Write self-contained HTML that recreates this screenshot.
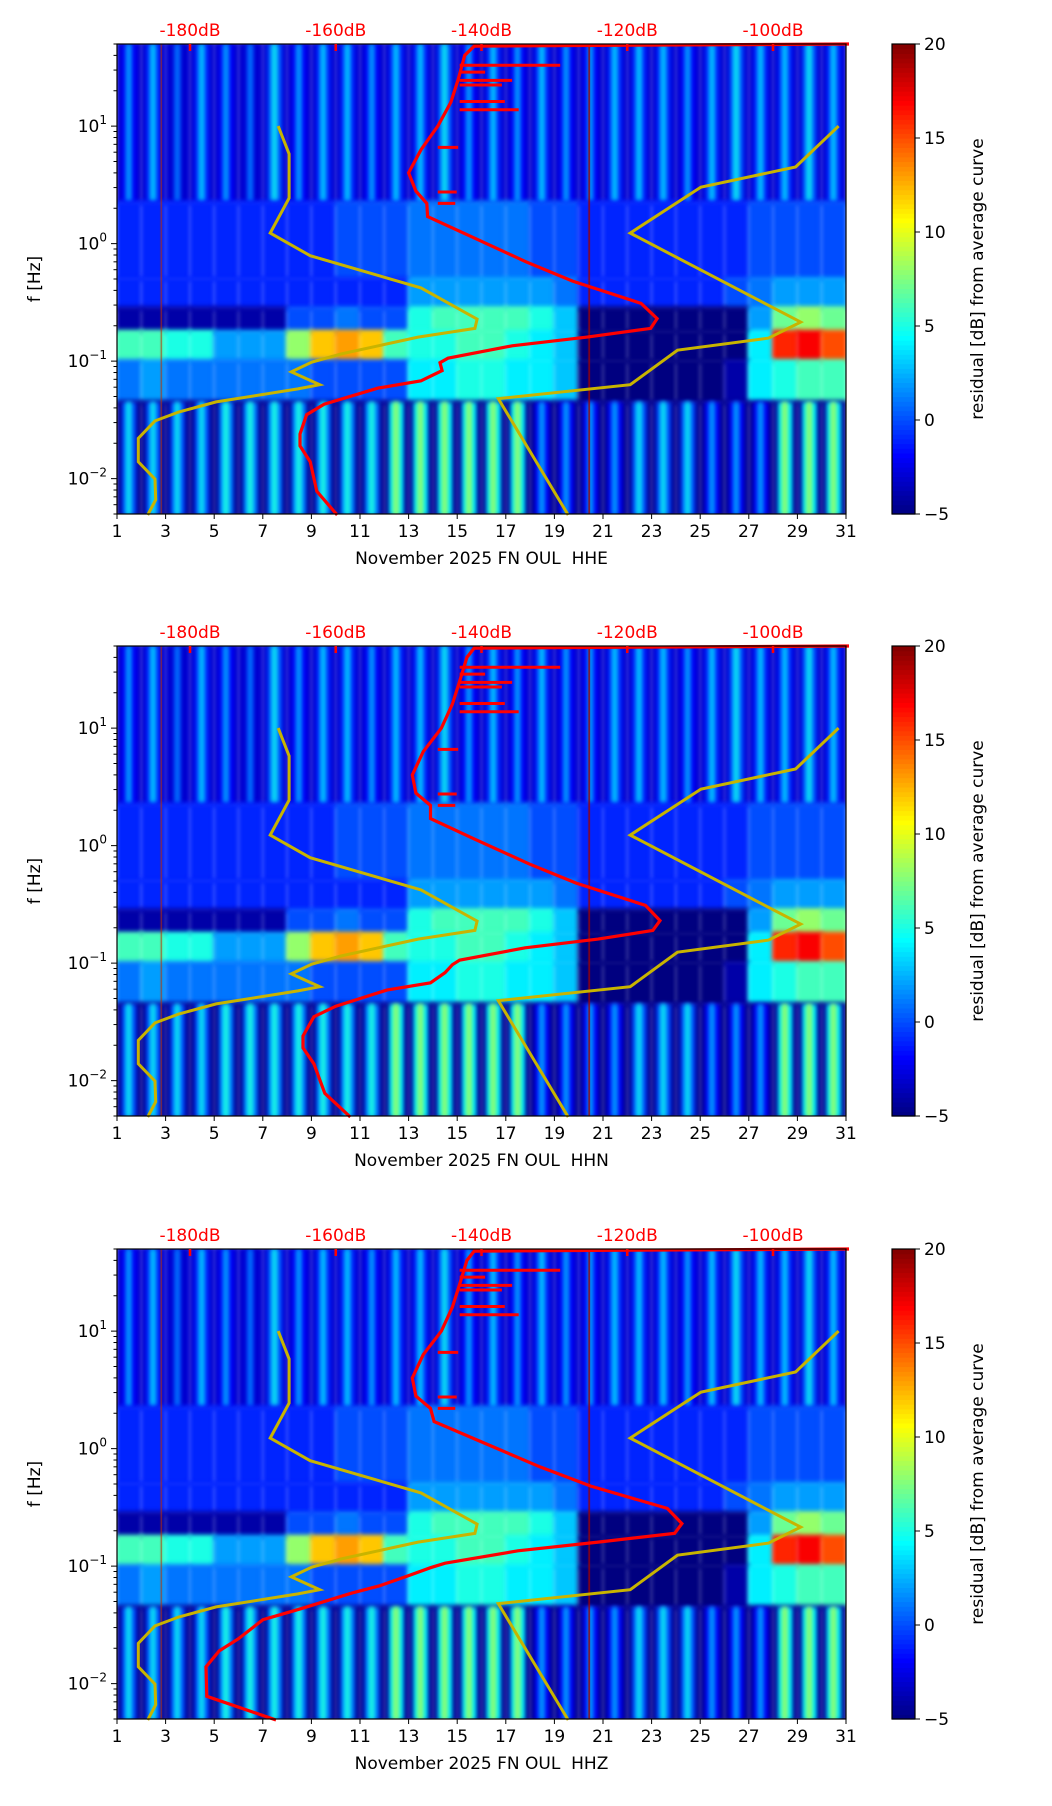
<!DOCTYPE html>
<html><head><meta charset="utf-8">
<style>
body{margin:0;background:#fff;}
#root{position:relative;width:1052px;height:1806px;overflow:hidden;background:#fff;font-family:"DejaVu Sans","Liberation Sans",sans-serif;}
canvas{position:absolute;}
svg{position:absolute;left:0;top:0;}
</style></head>
<body>
<div id="root"></div>
<script>
// ---- data ----
const days = [1,2,3,4,5,6,7,8,9,10,11,12,13,14,15,16,17,18,19,20,21,22,23,24,25,26,27,28,29,30];
const rowLogTop = [1.7, 0.35, -0.3, -0.55, -0.75, -1.0, -1.35];
const rowLogBot = [0.35, -0.3, -0.55, -0.75, -1.0, -1.35, -2.31];
const rowStreaky = [true,false,false,false,false,false,true];
const rowBase = [-3,0,0,0,0,0,-4.5];
const r0 = [3,4,2,4,3,2,5,3,4,4,3,4,4,5,3,4,3,4,3,3,4,4,4,3,4,5,4,4,5,4];
const r1 = [-1,-1,-1,-1,-1,-1,-1,-1,-1,0,0,0,1,1,1,1,1,0,0,-1,-1,-1,-1,-1,-1,-1,0,0,0,0];
const r2 = [-1,-1,-1,-1,-1,-1,-1,-1,-1,-1,-1,-1,2,2,2,2,2,2,1,-1,-1,-1,-1,-1,-1,0,1,2,2,2];
const r3 = [-4,-4,-4,-4,-4,-4,-4,0,0,1,0,0,5,6,6,6,6,5,3,-5,-5,-5,-5,-5,-5,-5,2,7,8,7];
const r4 = [6,6,5,5,2,2,2,8,12,13,12,6,5,5,6,6,5,4,3,-5,-5,-5,-5,-5,-5,-5,4,16,17,15];
const r5 = [1,2,1,1,1,1,1,1,0,0,0,0,4,4,5,5,4,4,3,-5,-5,-5,-5,-5,-5,-4,4,5,6,6];
const r6 = [5,5,5,5,6,6,6,6,6,6,6,9,9,9,9,9,9,3,3,3,3,5,5,5,3,3,3,9,9,9];
const heatRows = [r0,r1,r2,r3,r4,r5,r6];

// low noise model (yellow left)
const nlnmF = [10,5.8,2.44,1.23,0.79,0.42,0.228,0.19,0.16,0.115,0.098,0.081,0.063,0.058,0.045,0.037,0.031,0.022,0.0139,0.0099,0.0066,0.0049];
const nlnmDb = [-167.9,-166.4,-166.4,-169.0,-163.5,-148.3,-140.6,-140.9,-148.7,-159.3,-163.3,-166.1,-162.2,-165.2,-176.4,-181.5,-184.8,-187.1,-187.1,-184.8,-184.7,-185.8];
// high noise model (yellow right)
const nhnmF = [10,4.49,3.03,1.23,0.215,0.157,0.124,0.063,0.048,0.0049];
const nhnmDb = [-91.0,-96.9,-109.9,-119.6,-96.2,-100.6,-113.1,-119.6,-137.7,-128.1];
// average PSD curves (red) per channel
const avgF = [50,48,40,25,16,10,6.3,4,2.8,2.2,1.7,1.14,0.7,0.48,0.31,0.23,0.19,0.16,0.135,0.106,0.097,0.083,0.068,0.059,0.043,0.035,0.024,0.019,0.0139,0.0078,0.0049];
const avgHHE = [-95,-141,-142.3,-143.2,-144.2,-146,-148.3,-150,-149,-147.5,-147.4,-141.3,-133.9,-127.5,-118.1,-115.9,-116.8,-125.5,-135.8,-144.6,-145.7,-145.4,-148.3,-154.2,-161.6,-164.0,-164.9,-164.9,-163.5,-162.6,-159.8];
const avgHHN = [-95,-141,-142,-143,-144,-145.5,-148,-149.5,-149,-147,-147,-141,-133.5,-127,-117.5,-115.5,-116.5,-124,-134,-143,-144,-145,-147,-153,-160,-163,-164.5,-164.5,-163,-161.5,-158];
const avgHHZ = [-95,-141,-142,-143,-144,-145.5,-148,-149.5,-149,-147,-146.5,-140,-132,-125,-114.5,-112.5,-113.5,-124,-135,-145,-147,-150,-154,-157.8,-165,-170,-173.4,-176,-177.8,-177.7,-168.2];
const spikeF = [33,28.8,24.5,22.4,16.2,13.8,6.6,2.75,2.2];
const spikeDb = [-129.2,-139.5,-135.8,-137.2,-136.8,-134.9,-143.2,-143.4,-143.6];
const dbTicks = [-180,-160,-140,-120,-100];
const dayTicks = [1,3,5,7,9,11,13,15,17,19,21,23,25,27,29,31];
const cbTicks = [-5,0,5,10,15,20];
const channels = ["HHE","HHN","HHZ"];
const avgCurves = [avgHHE, avgHHN, avgHHZ];

// ---- layout ----
const L=117, R=846, PH=470, tops=[44,646,1249];
const CBX=892, CBW=23;
const NS="http://www.w3.org/2000/svg";
const root=document.getElementById('root');
const svg=document.createElementNS(NS,'svg');
svg.setAttribute('width',1052);svg.setAttribute('height',1806);



function xDay(d){return L+(d-1)*(R-L)/30;}
function yF(top,f){return top+(Math.log10(50)-Math.log10(f))/4*PH;}
function xDb(db){return 190+(db+180)*583/80;}
function jet(v){
  let t=(v+5)/25; t=Math.max(0,Math.min(1,t));
  const c=x=>Math.max(0,Math.min(1,x));
  const r=c(1.5-Math.abs(4*t-3)), g=c(1.5-Math.abs(4*t-2)), b=c(1.5-Math.abs(4*t-1));
  return `rgb(${Math.round(r*255)},${Math.round(g*255)},${Math.round(b*255)})`;
}
function el(tag,attrs,parent){const e=document.createElementNS(NS,tag);for(const k in attrs)e.setAttribute(k,attrs[k]);(parent||svg).appendChild(e);return e;}

tops.forEach((top,pi)=>{
  const cv=document.createElement('canvas');
  cv.width=R-L;cv.height=PH;cv.style.left=L+'px';cv.style.top=top+'px';
  
  
  root.appendChild(cv);
  const ctx=cv.getContext('2d');
  ctx.filter='blur(2px)';
  const pd=(R-L)/30;
  heatRows.forEach((row,ri)=>{
    const y0=yF(0,Math.pow(10,rowLogTop[ri])), y1=yF(0,Math.pow(10,rowLogBot[ri]));
    days.forEach((d,di)=>{
      const x0=(d-1)*pd;
      if(rowStreaky[ri]){
        ctx.fillStyle=jet(rowBase[ri]);ctx.fillRect(x0-1,y0-2,pd+2,y1-y0+4);
        ctx.fillStyle=jet(row[di]-5);ctx.fillRect(x0+pd*0.2,y0,pd*0.6,y1-y0);
        ctx.fillStyle=jet(row[di]-2);ctx.fillRect(x0+pd*0.35,y0,pd*0.25,y1-y0);
        ctx.fillStyle=jet(row[di]);ctx.fillRect(x0+pd*0.45,y0,pd*0.08,y1-y0);
      } else {
        ctx.fillStyle=jet(row[di]);ctx.fillRect(x0-1,y0-2,pd+2,y1-y0+4);
      }
    });
  });
  ctx.filter='none';
  ctx.fillStyle='#a00000';
  ctx.fillRect(xDay(20.4)-L,0,1.5,PH);
  ctx.fillStyle='#c03000';
  ctx.fillRect(xDay(2.8)-L,0,1,PH);

  const g=el('g',{});
  
  
  const lp=nlnmF.map((f,i)=>`${xDb(nlnmDb[i]).toFixed(1)},${yF(top,f).toFixed(1)}`).join(' ');
  const ln=el('polyline',{points:lp,fill:'none',stroke:'#c8b400','stroke-width':3},g);
  
  
  const hp=nhnmF.map((f,i)=>`${xDb(nhnmDb[i]).toFixed(1)},${yF(top,f).toFixed(1)}`).join(' ');
  const hn=el('polyline',{points:hp,fill:'none',stroke:'#c8b400','stroke-width':3},g);
  
  
  const cur=avgCurves[pi];
  const rp=avgF.map((f,i)=>`${(i==0?R+3:xDb(cur[i])).toFixed(1)},${yF(top,f).toFixed(1)}`).join(' ');
  const rl=el('polyline',{points:rp,fill:'none',stroke:'#ff0000','stroke-width':3.2},g);
  
  
  spikeF.forEach((f,i)=>{
    const y=yF(top,f);
    const base=xDb(-146+ (Math.log10(f)>1?3:0));
    const sp=el('line',{x1:base,y1:y,x2:xDb(spikeDb[i]),y2:y,stroke:'#ff0000','stroke-width':3},g);
    
    
  });
  const fr=el('rect',{x:L,y:top,width:R-L,height:PH,fill:'none',stroke:'#000','stroke-width':1.2},g);
  
  
  dayTicks.forEach(d=>{
    const x=xDay(d);
    el('line',{x1:x,y1:top+PH,x2:x,y2:top+PH+5,stroke:'#000','stroke-width':1},g);
    const t=el('text',{x:x,y:top+PH+23,'font-size':17,'text-anchor':'middle',fill:'#000'},g);
    t.textContent=d;
    
    
  });
  const xl=el('text',{x:(L+R)/2,y:top+PH+50,'font-size':17,'text-anchor':'middle',fill:'#000'},g);
  xl.textContent='November 2025 FN OUL\u00a0\u00a0'+channels[pi];
  
  
  for(let e=-3;e<=1;e++){
    for(let m=1;m<10;m++){
      const f=m*Math.pow(10,e);
      if(f<0.005||f>50)continue;
      const y=yF(top,f);
      el('line',{x1:L-(m==1?6:3.5),y1:y,x2:L,y2:y,stroke:'#000','stroke-width':1},g);
      if(m==1){
        const t=el('text',{x:L-10,y:y+6,'font-size':17,'text-anchor':'end',fill:'#000'},g);
        const expo=(e<0?'\u2212':'')+Math.abs(e);
        t.appendChild(document.createTextNode('10'));
        const sup=el('tspan',{dy:-8,'font-size':12},t);
        sup.textContent=expo;
        
        
      }
    }
  }
  const yl=el('text',{x:0,y:0,'font-size':17,'text-anchor':'middle',fill:'#000',transform:`translate(40,${top+PH/2}) rotate(-90)`},g);
  yl.textContent='f [Hz]';
  
  
  dbTicks.forEach(db=>{
    const x=xDb(db);
    el('line',{x1:x,y1:top,x2:x,y2:top+7,stroke:'#ff0000','stroke-width':2.5},g);
    const t=el('text',{x:x,y:top-8,'font-size':17,'text-anchor':'middle',fill:'#ff0000'},g);
    t.textContent=db+'dB';
    
    
  });
  const cb=el('g',{},g);
  
  
  for(let i=0;i<100;i++){
    const v=-5+25*(i+0.5)/100;
    el('rect',{x:CBX,y:top+PH-(i+1)*PH/100,width:CBW,height:PH/100+0.6,fill:jet(v)},cb);
  }
  el('rect',{x:CBX,y:top,width:CBW,height:PH,fill:'none',stroke:'#000','stroke-width':1.2},cb);
  cbTicks.forEach(v=>{
    const y=top+PH-(v+5)/25*PH;
    el('line',{x1:CBX+CBW,y1:y,x2:CBX+CBW+5,y2:y,stroke:'#000','stroke-width':1},cb);
    const t=el('text',{x:CBX+CBW+9,y:y+6,'font-size':17,fill:'#000'},cb);
    t.textContent=String(v).replace('-','\u2212');
    
    
  });
  const cl=el('text',{x:0,y:0,'font-size':17,'text-anchor':'middle',fill:'#000',transform:`translate(983,${top+PH/2}) rotate(-90)`},cb);
  cl.textContent='residual [dB] from average curve';
  
  
});
root.appendChild(svg);
</script>
</body></html>
